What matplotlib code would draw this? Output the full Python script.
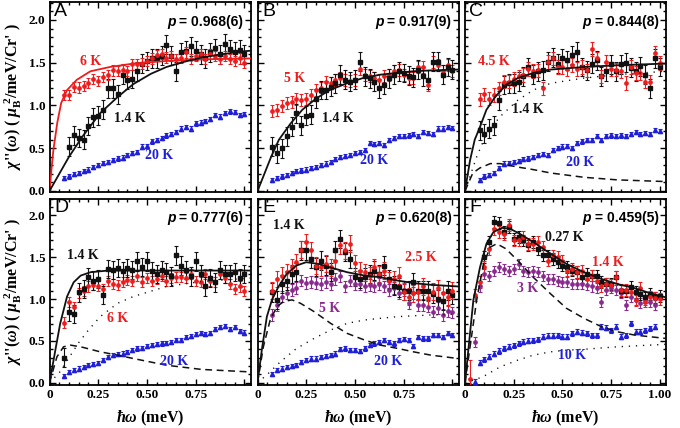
import numpy as np
import matplotlib
matplotlib.use('Agg')
import matplotlib.pyplot as plt
from matplotlib.ticker import MultipleLocator

plt.rcParams['mathtext.fontset'] = 'custom'
plt.rcParams['mathtext.rm'] = 'Liberation Serif:bold'
plt.rcParams['mathtext.it'] = 'Liberation Serif:italic:bold'
plt.rcParams['mathtext.bf'] = 'Liberation Serif:bold'
plt.rcParams['mathtext.fallback'] = 'stix'

RED, BLK, BLU, PUR = '#ee1c1c', '#111111', '#1f1fd8', '#8b2a8e'

# energy bins (meV), 0.025 .. 1.0
EN = np.round(np.arange(0.025, 1.0001, 0.025), 3)

# ---- panel A  (p = 0.968(6))
a_red = [1.12, 1.12, 1.22, 1.21, 1.23, 1.26, 1.31, 1.29, 1.33, 1.36,
         1.41, 1.40, 1.42, 1.40, 1.48, 1.48, 1.49, 1.52, 1.55, 1.59,
         1.60, 1.56, 1.58, 1.54, 1.56, 1.62, 1.54, 1.58, 1.60, 1.54,
         1.60, 1.58, 1.54, 1.58, 1.54, 1.52, 1.55, 1.50]            # 6 K
a_blk = [0.52, 0.65, 0.62, 0.60, 0.76, 0.86, 0.88, 0.95, 1.20, 1.20,
         1.13, 1.36, 1.30, 1.31, 1.40, 1.49, 1.52, 1.55, 1.55, 1.58,
         1.71, 1.58, 1.40, 1.62, 1.64, 1.69, 1.64, 1.60, 1.55, 1.62,
         1.67, 1.60, 1.72, 1.66, 1.63, 1.65, 1.60]                  # 1.4 K (from 0.1)
a_blu = [0.15, 0.17, 0.20, 0.21, 0.23, 0.25, 0.28, 0.30, 0.33, 0.34,
         0.36, 0.38, 0.39, 0.42, 0.44, 0.46, 0.52, 0.53, 0.58, 0.60,
         0.62, 0.65, 0.67, 0.69, 0.73, 0.75, 0.73, 0.79, 0.80, 0.82,
         0.84, 0.89, 0.87, 0.91, 0.93, 0.92, 0.89, 0.90]            # 20 K
a_fit6_x = [0, 0.01, 0.02, 0.04, 0.06, 0.09, 0.14, 0.21, 0.31, 0.43, 0.6, 0.8, 1.03]
a_fit6_y = [0, 0.25, 0.48, 0.80, 1.03, 1.18, 1.30, 1.40, 1.45, 1.49, 1.52, 1.54, 1.55]
a_fit_x = [0, 0.05, 0.1, 0.17, 0.26, 0.35, 0.43, 0.52, 0.6, 0.69, 0.78, 0.86, 0.98, 1.03]
a_fit_y = [0, 0.20, 0.40, 0.64, 0.91, 1.10, 1.25, 1.37, 1.45, 1.51, 1.56, 1.59, 1.63, 1.64]

# ---- panel B  (p = 0.917(9))
b_red = [0.93, 0.95, 0.99, 1.03, 1.04, 1.08, 1.06, 1.08, 1.12, 1.18,
         1.21, 1.28, 1.26, 1.30, 1.32, 1.30, 1.29, 1.30, 1.43, 1.36,
         1.34, 1.32, 1.30, 1.34, 1.36, 1.40, 1.42, 1.36, 1.32, 1.32,
         1.45, 1.45, 1.24, 1.51, 1.47, 1.40, 1.47, 1.40]            # 5 K
b_blk = [0.52, 0.44, 0.50, 0.64, 0.75, 0.91, 0.77, 0.88, 0.89, 1.08,
         1.18, 1.18, 1.22, 1.26, 1.36, 1.30, 1.28, 1.30, 1.51, 1.34,
         1.32, 1.28, 1.20, 1.24, 1.32, 1.36, 1.40, 1.38, 1.35, 1.33,
         1.42, 1.34, 1.30, 1.51, 1.51, 1.36, 1.45, 1.42]            # 1.4 K
b_blu = [0.13, 0.15, 0.17, 0.19, 0.21, 0.23, 0.24, 0.25, 0.27, 0.28,
         0.30, 0.32, 0.34, 0.37, 0.40, 0.41, 0.42, 0.44, 0.46, 0.48,
         0.56, 0.55, 0.56, 0.54, 0.60, 0.62, 0.64, 0.64, 0.65, 0.67,
         0.64, 0.69, 0.68, 0.67, 0.73, 0.73, 0.75, 0.74]            # 20 K
b_fit_x = [0, 0.03, 0.07, 0.11, 0.17, 0.23, 0.30, 0.37, 0.46, 0.54, 0.63, 0.71, 0.80, 0.89, 1.03]
b_fit_y = [0, 0.17, 0.40, 0.60, 0.79, 0.95, 1.08, 1.18, 1.26, 1.32, 1.36, 1.38, 1.40, 1.41, 1.42]

# ---- panel C  (p = 0.844(8))
c_red = [1.07, 1.13, 1.08, 1.12, 1.20, 1.28, 1.28, 1.31, 1.34, 1.36,
         1.43, 1.40, 1.41, 1.20, 1.51, 1.55, 1.45, 1.45, 1.43, 1.47,
         1.43, 1.45, 1.41, 1.66, 1.55, 1.34, 1.51, 1.43, 1.42, 1.40,
         1.26, 1.45, 1.38, 1.38, 1.28, 1.28, 1.61, 1.50]            # 4.5 K
c_blk = [0.71, 0.67, 0.73, 0.77, 1.06, 1.24, 1.26, 1.26, 1.28, 1.34,
         1.45, 1.36, 1.40, 1.41, 1.51, 1.56, 1.49, 1.55, 1.53, 1.59,
         1.63, 1.45, 1.41, 1.49, 1.53, 1.34, 1.40, 1.48, 1.40, 1.48,
         1.50, 1.44, 1.40, 1.46, 1.36, 1.20, 1.55, 1.45]            # 1.4 K
c_blu = [0.13, 0.17, 0.19, 0.21, 0.27, 0.32, 0.33, 0.34, 0.35, 0.37,
         0.38, 0.40, 0.42, 0.43, 0.42, 0.48, 0.50, 0.52, 0.53, 0.50,
         0.56, 0.58, 0.60, 0.60, 0.64, 0.60, 0.64, 0.65, 0.64, 0.65,
         0.64, 0.67, 0.69, 0.67, 0.68, 0.67, 0.71, 0.70]            # 20 K
c_fit_x = [0, 0.026, 0.05, 0.077, 0.11, 0.155, 0.21, 0.27, 0.35, 0.44, 0.61, 0.78, 1.03]
c_fit_y = [0, 0.36, 0.60, 0.75, 0.95, 1.10, 1.24, 1.32, 1.38, 1.42, 1.45, 1.47, 1.49]
c_dash_x = [0, 0.04, 0.077, 0.13, 0.18, 0.27, 0.35, 0.44, 0.61, 0.78, 1.03]
c_dash_y = [0, 0.21, 0.27, 0.32, 0.32, 0.28, 0.25, 0.21, 0.16, 0.13, 0.11]
c_dot_x = [0, 0.06, 0.11, 0.18, 0.27, 0.35, 0.44, 0.61, 0.78, 1.03]
c_dot_y = [0, 0.40, 0.67, 0.87, 1.06, 1.18, 1.26, 1.32, 1.36, 1.40]

# ---- panel D  (p = 0.777(6))
d_blk = [0.30, 0.85, 0.82, 1.08, 1.12, 1.26, 1.22, 1.24, 1.05, 1.36,
         1.35, 1.37, 1.33, 1.37, 1.35, 1.45, 1.38, 1.45, 1.33, 1.30,
         1.35, 1.32, 1.27, 1.52, 1.40, 1.35, 1.27, 1.45, 1.30, 1.15,
         1.25, 1.20, 1.35, 1.30, 1.30, 1.32, 1.25, 1.30]            # 1.4 K
d_red = [0.72, 0.96, 0.90, 1.07, 1.10, 1.15, 1.17, 1.16, 1.12, 1.22,
         1.18, 1.17, 1.20, 1.23, 1.22, 1.27, 1.20, 1.25, 1.22, 1.24,
         1.27, 1.22, 1.25, 1.26, 1.26, 1.25, 1.30, 1.22, 1.20, 1.30,
         1.22, 1.20, 1.30, 1.25, 1.18, 1.12, 1.15, 1.10]            # 6 K
d_blu = [0.08, 0.13, 0.15, 0.17, 0.19, 0.21, 0.22, 0.24, 0.27, 0.31,
         0.33, 0.34, 0.35, 0.37, 0.39, 0.41, 0.42, 0.44, 0.45, 0.46,
         0.47, 0.48, 0.49, 0.51, 0.51, 0.55, 0.56, 0.58, 0.59, 0.58,
         0.59, 0.64, 0.67, 0.68, 0.64, 0.67, 0.62, 0.60]            # 20 K
d_fit_x = [0, 0.03, 0.055, 0.09, 0.124, 0.16, 0.21, 0.30, 0.43, 1.03]
d_fit_y = [0, 0.39, 0.71, 1.03, 1.20, 1.28, 1.32, 1.34, 1.34, 1.34]
d_dash_x = [0, 0.038, 0.072, 0.107, 0.16, 0.26, 0.35, 0.43, 0.6, 0.78, 1.03]
d_dash_y = [0, 0.31, 0.43, 0.45, 0.43, 0.37, 0.33, 0.29, 0.21, 0.16, 0.13]
d_dot_x = [0, 0.05, 0.1, 0.15, 0.2, 0.26, 0.35, 0.43, 0.6, 0.78, 1.03]
d_dot_y = [0, 0.12, 0.30, 0.48, 0.63, 0.79, 0.95, 1.03, 1.15, 1.21, 1.25]

# ---- panel E  (p = 0.620(8))
e_red = [1.10, 1.24, 1.28, 1.32, 1.38, 1.44, 1.59, 1.68, 1.58, 1.40,
         1.38, 1.42, 1.38, 1.46, 1.64, 1.58, 1.66, 1.43, 1.34, 1.32,
         1.28, 1.38, 1.30, 1.34, 1.22, 1.24, 1.28, 1.09, 1.03, 1.07,
         1.09, 1.15, 1.01, 1.09, 1.13, 1.07, 1.02, 1.10]            # 2.5 K
e_blk = [1.08, 0.99, 1.18, 1.22, 1.30, 1.32, 1.58, 1.58, 1.48, 1.38,
         1.46, 1.40, 1.32, 1.58, 1.72, 1.56, 1.48, 1.26, 1.24, 1.26,
         1.30, 1.34, 1.30, 1.40, 1.24, 1.16, 1.14, 1.10, 1.10, 1.20,
         1.10, 1.10, 1.10, 1.06, 1.00, 0.98, 1.10, 1.05]            # 1.4 K
e_pur = [0.81, 0.93, 1.03, 1.07, 1.11, 1.13, 1.22, 1.19, 1.20, 1.19,
         1.18, 1.20, 1.18, 1.24, 1.27, 1.15, 1.22, 1.18, 1.18, 1.15,
         1.17, 1.15, 1.18, 1.15, 1.11, 1.13, 1.07, 1.11, 0.95, 1.07,
         0.93, 0.93, 0.91, 0.85, 0.89, 0.81, 0.86, 0.84]            # 5 K
e_blu = [0.11, 0.15, 0.17, 0.19, 0.20, 0.21, 0.25, 0.27, 0.29, 0.29,
         0.31, 0.32, 0.33, 0.35, 0.40, 0.41, 0.39, 0.39, 0.38, 0.41,
         0.45, 0.47, 0.49, 0.51, 0.49, 0.47, 0.51, 0.52, 0.51, 0.44,
         0.55, 0.53, 0.53, 0.57, 0.57, 0.55, 0.59, 0.57]            # 20 K
e_fit_x = [0, 0.022, 0.048, 0.074, 0.108, 0.15, 0.2, 0.25, 0.31, 0.37, 0.46, 0.55, 0.63, 0.72, 0.8, 0.89, 1.03]
e_fit_y = [0, 0.39, 0.79, 0.99, 1.15, 1.30, 1.40, 1.44, 1.42, 1.38, 1.32, 1.28, 1.26, 1.22, 1.19, 1.17, 1.15]
e_dash_x = [0, 0.03, 0.065, 0.1, 0.134, 0.177, 0.22, 0.29, 0.375, 0.46, 0.55, 0.63, 0.72, 0.8, 0.89, 1.03]
e_dash_y = [0, 0.43, 0.75, 0.91, 0.97, 0.99, 0.95, 0.85, 0.71, 0.59, 0.51, 0.45, 0.41, 0.37, 0.33, 0.29]
e_dot_x = [0, 0.05, 0.117, 0.2, 0.29, 0.375, 0.46, 0.55, 0.63, 0.72, 0.8, 0.89, 1.03]
e_dot_y = [0, 0.10, 0.25, 0.41, 0.53, 0.63, 0.71, 0.75, 0.77, 0.79, 0.80, 0.81, 0.82]

# ---- panel F  (p = 0.459(5))
f_red = [0.05, 1.05, 1.20, 1.38, 1.60, 1.84, 1.80, 1.78, 1.88, 1.70,
         1.70, 1.74, 1.66, 1.66, 1.68, 1.62, 1.46, 1.52, 1.50, 1.46,
         1.34, 1.36, 1.32, 1.34, 1.24, 1.28, 1.22, 1.15, 1.18, 1.17,
         1.26, 1.11, 1.11, 1.09, 0.99, 1.13, 0.97, 1.03, 1.01, 1.00]  # 1.4 K (from 0.025)
f_red_err = [0.22] + [0.07] * 39
f_blk = [1.50, 1.68, 1.92, 1.91, 1.80, 1.86, 1.72, 1.74, 1.70, 1.64,
         1.68, 1.60, 1.52, 1.52, 1.48, 1.44, 1.40, 1.38, 1.34, 1.32,
         1.26, 1.30, 1.28, 1.28, 1.20, 1.18, 1.18, 1.26, 1.10, 1.10,
         1.14, 1.08, 1.06, 1.02, 1.06, 1.02, 1.04]                  # 0.27 K (from 0.1)
f_pur = [0.49, 1.15, 1.30, 1.28, 1.34, 1.38, 1.36, 1.34, 1.36, 1.42,
         1.34, 1.32, 1.34, 1.32, 1.28, 1.24, 1.24, 1.22, 1.20, 1.20,
         1.18, 1.18, 1.18, 1.17, 1.15, 1.13, 0.97, 1.11, 1.13, 1.11,
         1.07, 0.93, 1.02, 0.99, 0.95, 0.99, 0.97, 0.93]            # 3 K (from 0.05)
f_blu = [0.01, 0.24, 0.28, 0.31, 0.35, 0.38, 0.41, 0.43, 0.45, 0.47,
         0.49, 0.50, 0.51, 0.52, 0.55, 0.56, 0.56, 0.57, 0.55, 0.55,
         0.59, 0.61, 0.60, 0.59, 0.57, 0.57, 0.67, 0.66, 0.63, 0.67,
         0.55, 0.57, 0.71, 0.61, 0.61, 0.63, 0.65, 0.67]            # 10 K (from 0.05)
f_fit_x = [0, 0.017, 0.043, 0.077, 0.11, 0.146, 0.19, 0.23, 0.28, 0.35, 0.44, 0.52, 0.61, 0.7, 0.78, 0.87, 0.95, 1.03]
f_fit_y = [0, 0.39, 0.99, 1.38, 1.66, 1.80, 1.85, 1.84, 1.78, 1.68, 1.54, 1.42, 1.32, 1.24, 1.18, 1.13, 1.07, 1.02]
f_dash_x = [0, 0.026, 0.06, 0.095, 0.13, 0.163, 0.21, 0.27, 0.35, 0.44, 0.52, 0.61, 0.7, 0.78, 0.87, 0.95, 1.03]
f_dash_y = [0, 0.43, 0.99, 1.42, 1.62, 1.66, 1.60, 1.46, 1.26, 1.06, 0.89, 0.77, 0.67, 0.61, 0.57, 0.55, 0.53]
f_dot_x = [0, 0.09, 0.18, 0.27, 0.35, 0.44, 0.52, 0.61, 0.78, 1.03]
f_dot_y = [0, 0.07, 0.19, 0.27, 0.33, 0.37, 0.39, 0.40, 0.43, 0.46]


def series(vals, start, col, mk, err, ms=2.4):
    return dict(v=vals, x0=start, c=col, m=mk, e=err, ms=ms)


PANELS = [
    dict(tag='A', p='0.968(6)', pos=(0, 0),
         data=[series(a_blu, 0.075, BLU, '^', 0.025, 3.0), series(a_blk, 0.1, BLK, 's', 0.11),
               series(a_red, 0.075, RED, 'o', 0.06)],
         lines=[(a_fit6_x, a_fit6_y, RED, '-'), (a_fit_x, a_fit_y, BLK, '-')],
         labels=[('6 K', 0.21, 1.51, RED), ('1.4 K', 0.41, 0.85, BLK), ('20 K', 0.56, 0.41, BLU)]),
    dict(tag='B', p='0.917(9)', pos=(0, 1),
         data=[series(b_blu, 0.075, BLU, '^', 0.025, 3.0), series(b_red, 0.075, RED, 'o', 0.07),
               series(b_blk, 0.075, BLK, 's', 0.11)],
         lines=[(b_fit_x, b_fit_y, BLK, '-')],
         labels=[('5 K', 0.19, 1.32, RED), ('1.4 K', 0.41, 0.85, BLK), ('20 K', 0.60, 0.36, BLU)]),
    dict(tag='C', p='0.844(8)', pos=(0, 2),
         data=[series(c_blu, 0.075, BLU, '^', 0.025, 3.0), series(c_blk, 0.075, BLK, 's', 0.11),
               series(c_red, 0.075, RED, 'o', 0.08)],
         lines=[(c_fit_x, c_fit_y, BLK, '-'), (c_dash_x, c_dash_y, BLK, '--'),
                (c_dot_x, c_dot_y, BLK, ':')],
         labels=[('4.5 K', 0.15, 1.51, RED), ('1.4 K', 0.32, 0.95, BLK), ('20 K', 0.59, 0.33, BLU)]),
    dict(tag='D', p='0.777(6)', pos=(1, 0),
         data=[series(d_blu, 0.075, BLU, '^', 0.025, 3.0), series(d_red, 0.075, RED, 'o', 0.06),
               series(d_blk, 0.075, BLK, 's', 0.11)],
         lines=[(d_fit_x, d_fit_y, BLK, '-'), (d_dash_x, d_dash_y, BLK, '--'),
                (d_dot_x, d_dot_y, BLK, ':')],
         labels=[('1.4 K', 0.17, 1.52, BLK), ('6 K', 0.35, 0.77, RED), ('20 K', 0.64, 0.25, BLU)]),
    dict(tag='E', p='0.620(8)', pos=(1, 1),
         data=[series(e_blu, 0.075, BLU, '^', 0.025, 3.0), series(e_pur, 0.075, PUR, 'o', 0.07),
               series(e_blk, 0.075, BLK, 's', 0.11), series(e_red, 0.075, RED, 'o', 0.10)],
         lines=[(e_fit_x, e_fit_y, BLK, '-'), (e_dash_x, e_dash_y, BLK, '--'),
                (e_dot_x, e_dot_y, BLK, ':')],
         labels=[('1.4 K', 0.16, 1.88, BLK), ('2.5 K', 0.84, 1.49, RED), ('5 K', 0.37, 0.89, PUR),
                 ('20 K', 0.67, 0.25, BLU)]),
    dict(tag='F', p='0.459(5)', pos=(1, 2),
         data=[series(f_blu, 0.05, BLU, '^', 0.03, 3.0), series(f_pur, 0.05, PUR, 'o', 0.06),
               series(f_blk, 0.1, BLK, 's', 0.07), series(f_red, 0.025, RED, 'o', f_red_err)],
         lines=[(f_fit_x, f_fit_y, BLK, '-'), (f_dash_x, f_dash_y, BLK, '--'),
                (f_dot_x, f_dot_y, BLK, ':')],
         labels=[('0.27 K', 0.51, 1.73, BLK), ('1.4 K', 0.73, 1.44, RED), ('3 K', 0.32, 1.13, PUR),
                 ('10 K', 0.55, 0.33, BLU)]),
]

W, H = 680, 428
fig = plt.figure(figsize=(W / 100, H / 100), dpi=100)

ROW_BOX = [(2, 192), (198.5, 384.5)]          # top/bottom in px
COL_LEFT = [49.5, 257.5, 465]
AX_W = 201
YLIMS = [(-0.012, 2.21), (-0.02, 2.2)]

serif = 'Liberation Serif'
sans = 'Liberation Sans'

for P in PANELS:
    r, c = P['pos']
    top, bot = ROW_BOX[r]
    ax = fig.add_axes([COL_LEFT[c] / W, 1 - bot / H, AX_W / W, (bot - top) / H])

    for s in P['data']:
        i0 = int(round(s['x0'] / 0.025)) - 1
        xs = EN[i0:i0 + len(s['v'])]
        ax.errorbar(xs, s['v'], yerr=s['e'], fmt=s['m'], color=s['c'], ms=s['ms'],
                    mec=s['c'], elinewidth=0.8, capsize=1.4, capthick=0.8, zorder=3)
    for lx, ly, lc, ls in P['lines']:
        kw = dict(color=lc, lw=1.3, zorder=4)
        if ls == '--':
            kw.update(lw=1.1, dashes=(4.5, 3))
        elif ls == ':':
            kw.update(lw=1.0, dashes=(0.9, 4.2))
        ax.plot(lx, ly, **kw)

    for txt, tx, ty, tc in P['labels']:
        ax.text(tx, ty, txt, color=tc, ha='center', va='center', fontsize=10,
                fontweight='bold', family=serif, zorder=5)

    ax.text(0.022, 0.995, P['tag'], transform=ax.transAxes, ha='left', va='top',
            fontsize=14, family=sans)
    t = ax.text(0.965, 0.895, ' = ' + P['p'], transform=ax.transAxes, ha='right',
                va='center', fontsize=10, fontweight='bold', family=sans)
    ax.annotate('p', xy=(0, 0), xycoords=t, ha='right', va='bottom', fontsize=10,
                fontweight='bold', fontstyle='italic', family=sans)

    ax.set_xlim(0, 1.031)
    ax.set_ylim(*YLIMS[r])
    ax.xaxis.set_major_locator(MultipleLocator(0.25))
    ax.xaxis.set_minor_locator(MultipleLocator(0.05))
    ax.yaxis.set_major_locator(MultipleLocator(0.5))
    ax.yaxis.set_minor_locator(MultipleLocator(0.1))
    ax.tick_params(which='both', direction='in', top=True, right=True, width=1.0, pad=3)
    ax.tick_params(which='major', length=4.5)
    ax.tick_params(which='minor', length=2.5)
    for sp in ax.spines.values():
        sp.set_linewidth(1.3)

    if c == 0:
        ax.set_yticks([0, 0.5, 1.0, 1.5, 2.0])
        ax.set_yticklabels(['0.0', '0.5', '1.0', '1.5', '2.0'])
    else:
        ax.set_yticklabels([])
    if r == 1:
        ax.set_xticks([0, 0.25, 0.5, 0.75, 1.0])
        lab = ['0', '0.25', '0.50', '0.75', '1.00' if c == 2 else '']
        ax.set_xticklabels(lab)
        ax.text(0.5, (418 - bot) / -(bot - top), r'$\hbar\omega$ (meV)',
                transform=ax.transAxes, ha='center', va='center', fontsize=11.5,
                fontweight='bold', family=serif)
    else:
        ax.set_xticklabels([])
    for lb in ax.get_xticklabels() + ax.get_yticklabels():
        lb.set_fontfamily(serif)
        lb.set_fontweight('bold')
        lb.set_fontsize(9.5)

ylab = r"$\chi$''($\omega$) ( $\mu_{\mathrm{B}}^{\ 2}$/meV/Cr' )"
for top, bot in ROW_BOX:
    fig.text(13 / W, 1 - (top + bot) / 2 / H, ylab, rotation=90, ha='center',
             va='center', fontsize=11.5, fontweight='bold', family=serif)

fig.savefig('out.png', dpi=100)
